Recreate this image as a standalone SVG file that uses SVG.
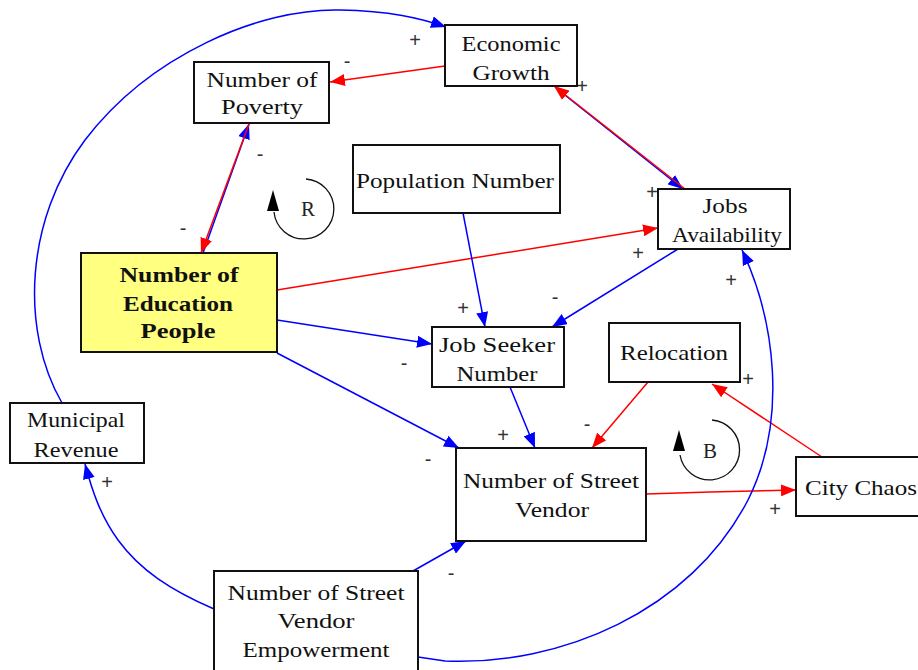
<svg xmlns="http://www.w3.org/2000/svg" width="918" height="670" viewBox="0 0 918 670">
<style>
.box{fill:#fff;stroke:#111;stroke-width:2}
.edu{fill:#ffff80;stroke:#111;stroke-width:2}
.t{font-family:"Liberation Serif","Times New Roman",serif;font-size:21px;fill:#111;text-anchor:middle}
.tb{font-family:"Liberation Serif","Times New Roman",serif;font-size:21px;font-weight:bold;fill:#111;text-anchor:middle}
.s{font-family:"Liberation Sans",Arial,sans-serif;font-size:20px;fill:#333;text-anchor:middle}
.lp{font-family:"Liberation Serif","Times New Roman",serif;font-size:21px;fill:#222;text-anchor:middle}
.r{fill:none;stroke:#ff0000;stroke-width:1.5}
.b{fill:none;stroke:#0000ff;stroke-width:1.5}
.loop{fill:none;stroke:#111;stroke-width:1.3}
</style>
<defs>
<marker id="ar" markerUnits="userSpaceOnUse" markerWidth="16" markerHeight="12" refX="15" refY="6" orient="auto"><path d="M0,0 L15,6 L0,12 z" fill="#ff0000"/></marker>
<marker id="ab" markerUnits="userSpaceOnUse" markerWidth="16" markerHeight="12" refX="15" refY="6" orient="auto"><path d="M0,0 L15,6 L0,12 z" fill="#0000ff"/></marker>
</defs>
<g id="connectors">
<path class="b" d="M62,403 C20,330 25,220 85,140 C150,55 260,8 340,10 C390,11 420,18 446,27" marker-end="url(#ab)"/>
<path class="r" d="M445,66 L330,82" marker-end="url(#ar)"/>
<path class="b" d="M203,253 L249,124" marker-end="url(#ab)"/>
<path class="r" d="M249,124 L201,253" marker-end="url(#ar)"/>
<path class="b" d="M556,88 L683,189" marker-end="url(#ab)"/>
<path class="r" d="M685,189 L554,86" marker-end="url(#ar)"/>
<path class="r" d="M277,290 L658,228" marker-end="url(#ar)"/>
<path class="b" d="M463,213 L485,327" marker-end="url(#ab)"/>
<path class="b" d="M678,249 L552,327" marker-end="url(#ab)"/>
<path class="b" d="M277,320 L432,344" marker-end="url(#ab)"/>
<path class="b" d="M277,353 L459,448" marker-end="url(#ab)"/>
<path class="b" d="M510,387 L535,448" marker-end="url(#ab)"/>
<path class="r" d="M648,382 L592,448" marker-end="url(#ar)"/>
<path class="r" d="M646,494 L710,492 L796,490" marker-end="url(#ar)"/>
<path class="r" d="M822,457 L712,384" marker-end="url(#ar)"/>
<path class="b" d="M214,609 C170,590 140,570 118,540 C100,515 92,490 85,464" marker-end="url(#ab)"/>
<path class="b" d="M413,571 L466,541" marker-end="url(#ab)"/>
<path class="b" d="M418,657 L445,661 C560,666 690,612 748,500 C788,420 775,320 742,250" marker-end="url(#ab)"/>
</g>
<g id="labels">
<text class="s" x="415" y="47">+</text>
<text class="s" x="347" y="68">-</text>
<text class="s" x="582" y="93">+</text>
<text class="s" x="260" y="161">-</text>
<text class="s" x="183" y="235">-</text>
<text class="s" x="652" y="199">+</text>
<text class="s" x="638" y="260">+</text>
<text class="s" x="463" y="315">+</text>
<text class="s" x="555" y="304">-</text>
<text class="s" x="404" y="370">-</text>
<text class="s" x="503" y="442">+</text>
<text class="s" x="587" y="431">-</text>
<text class="s" x="428" y="466">-</text>
<text class="s" x="748" y="386">+</text>
<text class="s" x="775" y="516">+</text>
<text class="s" x="731" y="287">+</text>
<text class="s" x="107" y="489">+</text>
<text class="s" x="451" y="580">-</text>
</g>
<g id="loopR">
<path class="loop" d="M306,179 A30,30 0 1 1 274,212"/>
<path d="M273,190 L267,211 L279,211 z" fill="#000"/>
<text class="lp" x="308" y="216">R</text>
</g>
<g id="loopB">
<path class="loop" d="M712,420 A30,30 0 1 1 680,455"/>
<path d="M679,430 L673,451 L685,451 z" fill="#000"/>
<text class="lp" x="710" y="458">B</text>
</g>
<g id="economic-growth">
<rect class="box" x="445" y="25" width="132" height="61"/>
<text class="t" x="511" y="51" textLength="99" lengthAdjust="spacingAndGlyphs">Economic</text>
<text class="t" x="511" y="80" textLength="77" lengthAdjust="spacingAndGlyphs">Growth</text>
</g>
<g id="number-of-poverty">
<rect class="box" x="194" y="62" width="135" height="61"/>
<text class="t" x="262" y="87" textLength="111" lengthAdjust="spacingAndGlyphs">Number of</text>
<text class="t" x="262" y="114" textLength="82" lengthAdjust="spacingAndGlyphs">Poverty</text>
</g>
<g id="population-number">
<rect class="box" x="353" y="145" width="207" height="68"/>
<text class="t" x="455" y="188" textLength="198" lengthAdjust="spacingAndGlyphs">Population Number</text>
</g>
<g id="jobs-availability">
<rect class="box" x="658" y="189" width="132" height="60"/>
<text class="t" x="725" y="213" textLength="45" lengthAdjust="spacingAndGlyphs">Jobs</text>
<text class="t" x="727" y="242" textLength="110" lengthAdjust="spacingAndGlyphs">Availability</text>
</g>
<g id="number-of-education-people">
<rect class="edu" x="81" y="253" width="196" height="99"/>
<text class="tb" x="179" y="282" textLength="119" lengthAdjust="spacingAndGlyphs">Number of</text>
<text class="tb" x="178" y="311" textLength="110" lengthAdjust="spacingAndGlyphs">Education</text>
<text class="tb" x="178" y="338" textLength="75" lengthAdjust="spacingAndGlyphs">People</text>
</g>
<g id="job-seeker-number">
<rect class="box" x="432" y="327" width="132" height="60"/>
<text class="t" x="497" y="352" textLength="116" lengthAdjust="spacingAndGlyphs">Job Seeker</text>
<text class="t" x="497" y="381" textLength="81" lengthAdjust="spacingAndGlyphs">Number</text>
</g>
<g id="relocation">
<rect class="box" x="609" y="323" width="131" height="59"/>
<text class="t" x="674" y="360" textLength="108" lengthAdjust="spacingAndGlyphs">Relocation</text>
</g>
<g id="number-of-street-vendor">
<rect class="box" x="456" y="448" width="190" height="93"/>
<text class="t" x="551" y="488" textLength="176" lengthAdjust="spacingAndGlyphs">Number of Street</text>
<text class="t" x="552" y="517" textLength="74" lengthAdjust="spacingAndGlyphs">Vendor</text>
</g>
<g id="city-chaos">
<rect class="box" x="796" y="457" width="130" height="59"/>
<text class="t" x="861" y="495" textLength="112" lengthAdjust="spacingAndGlyphs">City Chaos</text>
</g>
<g id="municipal-revenue">
<rect class="box" x="10" y="403" width="134" height="60"/>
<text class="t" x="76" y="427" textLength="98" lengthAdjust="spacingAndGlyphs">Municipal</text>
<text class="t" x="76" y="457" textLength="85" lengthAdjust="spacingAndGlyphs">Revenue</text>
</g>
<g id="street-vendor-empowerment">
<rect class="box" x="214" y="571" width="204" height="110"/>
<text class="t" x="316" y="600" textLength="177" lengthAdjust="spacingAndGlyphs">Number of Street</text>
<text class="t" x="316" y="628" textLength="77" lengthAdjust="spacingAndGlyphs">Vendor</text>
<text class="t" x="316" y="657" textLength="147" lengthAdjust="spacingAndGlyphs">Empowerment</text>
</g>
</svg>
